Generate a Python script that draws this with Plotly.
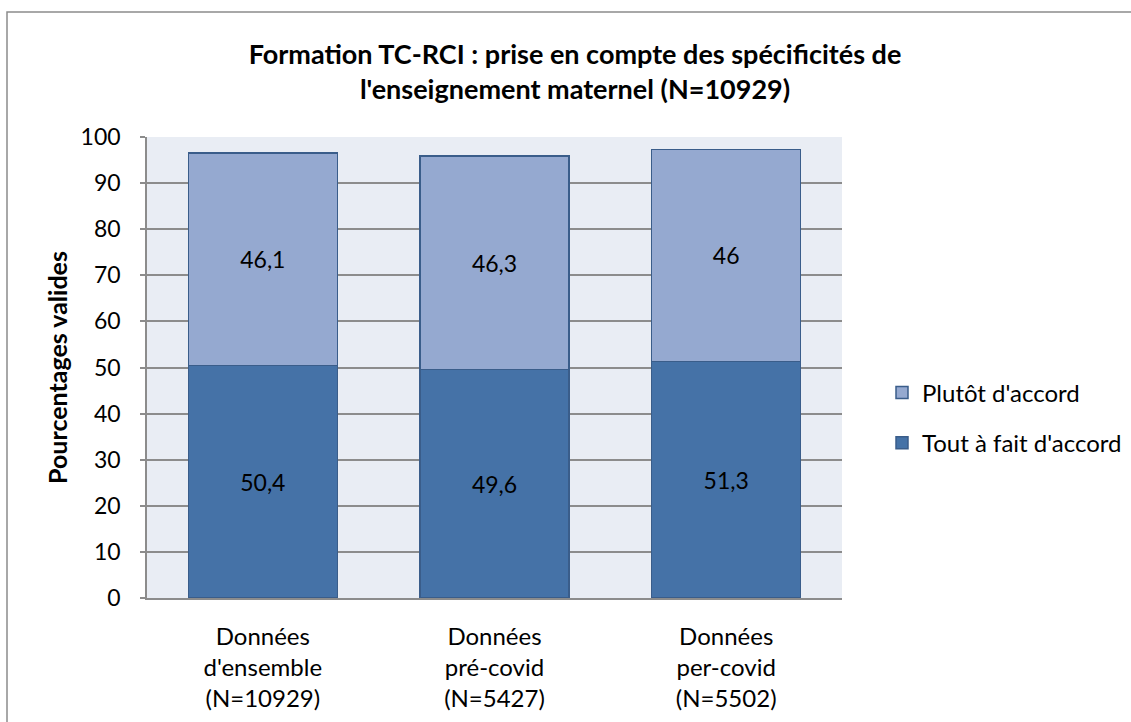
import plotly.graph_objects as go

categories = ["Données<br>d'ensemble<br>(N=10929)", "Données<br>pré-covid<br>(N=5427)", "Données<br>per-covid<br>(N=5502)"]
tout_a_fait = [50.4, 49.6, 51.3]
plutot = [46.1, 46.3, 46]
tout_labels = ["50,4", "49,6", "51,3"]
plutot_labels = ["46,1", "46,3", "46"]

FONT = "Lato"
FS = 23
W, H = 1131, 722
L, R, T, B = 147, 1131 - 842, 137, 722 - 598
pw = W - L - R
ph = H - T - B

fig = go.Figure()
fig.add_trace(go.Bar(
    x=categories, y=tout_a_fait, name="Tout à fait d'accord",
    text=tout_labels, textposition="inside", insidetextanchor="middle",
    textfont=dict(size=FS, color="black", family=FONT),
    marker=dict(color="#4572A7", line=dict(color="#3A5D8A", width=1.5)),
    legendgroup="a", legendrank=2,
))
fig.add_trace(go.Bar(
    x=categories, y=plutot, name="Plutôt d'accord",
    text=plutot_labels, textposition="inside", insidetextanchor="middle",
    textfont=dict(size=FS, color="black", family=FONT),
    marker=dict(color="#95A9D0", line=dict(color="#3A5D8A", width=1.5)),
    legendgroup="b", legendrank=1,
))

fig.update_layout(
    width=W, height=H,
    margin=dict(l=L, r=R, t=T, b=B, autoexpand=False),
    barmode="stack", bargap=0.357,
    paper_bgcolor="white", plot_bgcolor="#E9EDF4",
    font=dict(family=FONT, size=FS, color="black"),
    title=dict(
        text="<b>Formation TC-RCI : prise en compte des spécificités de<br>l'enseignement maternel (N=10929)</b>",
        x=575 / W, xref="container", xanchor="center",
        y=1 - 64 / H, yref="container", yanchor="middle",
        font=dict(size=27, family=FONT, color="black"),
    ),
    showlegend=True,
    legend=dict(
        x=(882 - L) / pw, xanchor="left", y=1 - (418 - T) / ph, yanchor="middle",
        traceorder="grouped", tracegroupgap=16,
        font=dict(size=24, family=FONT), bgcolor="rgba(0,0,0,0)",
        itemwidth=30,
    ),
)
fig.update_yaxes(
    range=[0, 100], dtick=10, tick0=0,
    showgrid=True, gridcolor="#8C8C8C", gridwidth=1.5,
    showline=True, linecolor="#8C8C8C", linewidth=1.5,
    ticks="outside", ticklen=5, tickcolor="#8C8C8C", tickwidth=1.5,
    ticklabelstandoff=15,
    tickfont=dict(size=FS, family=FONT),
    zeroline=False,
    title=dict(text="<b>Pourcentages valides</b>", font=dict(size=25, family=FONT), standoff=6),
)
fig.update_xaxes(
    showline=True, linecolor="#8C8C8C", linewidth=1.5,
    ticks="", tickfont=dict(size=24, family=FONT),
    ticklabelstandoff=16,
    showgrid=False,
)
# outer chart-area border
fig.add_shape(type="rect", xref="paper", yref="paper",
              x0=(7 - L) / pw, x1=(W + 20 - L) / pw,
              y0=-(H + 20 - T - ph) / ph, y1=(T - 12 + ph) / ph,
              line=dict(color="#8C8C8C", width=1.5), fillcolor="rgba(0,0,0,0)", layer="below")

fig.write_html("out.html", config={"displayModeBar": False},
               post_script="document.body.style.margin='0px';")
